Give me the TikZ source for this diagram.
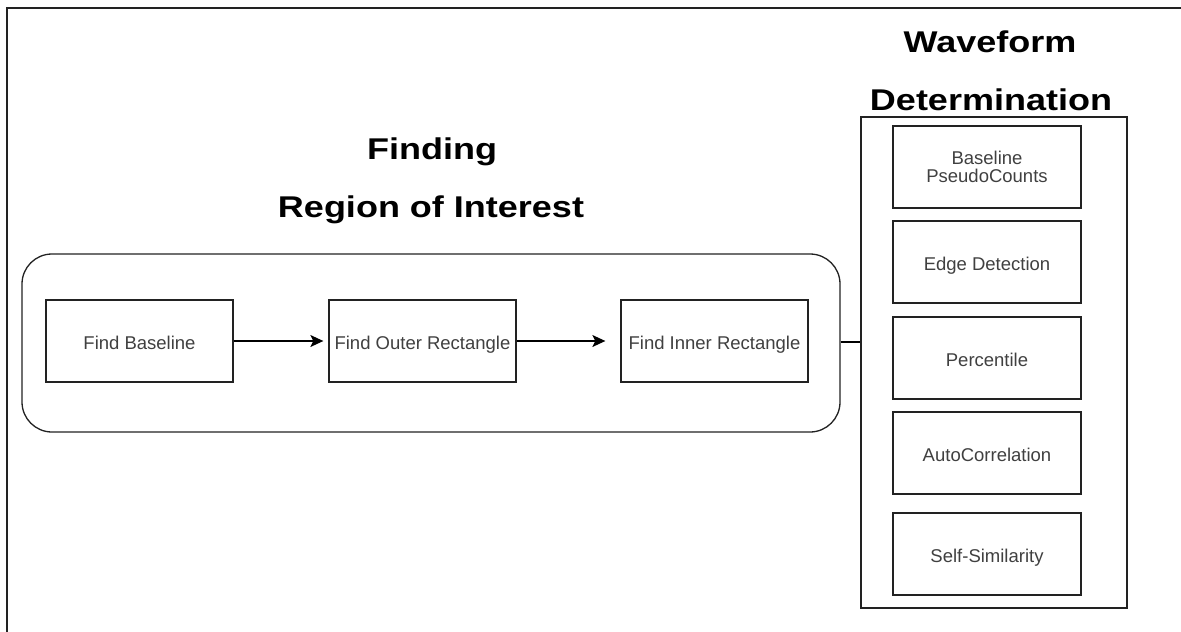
\documentclass[tikz,border=0pt]{standalone}
\usepackage{fontspec}
\usepackage{graphicx}
\setmainfont{Liberation Sans}
\usetikzlibrary{arrows.meta}
\definecolor{txtgrey}{HTML}{404040}
\definecolor{linegrey}{HTML}{222222}
\newcommand{\titletext}[1]{\scalebox{1.2}[1]{\fontsize{30}{36}\selectfont\bfseries #1}}
\begin{document}
\begin{tikzpicture}[x=1pt,y=-1pt,
  stepbox/.style={draw=linegrey,line width=1.3pt,minimum width=187pt,minimum height=82pt,inner sep=0pt,
    text=txtgrey,font=\fontsize{18.5}{21}\selectfont,align=center,text height=17pt,text depth=0pt},
  titlenode/.style={anchor=base,inner sep=0pt,text=black},
  conn/.style={draw=black,line width=1.3pt},
  arr/.style={conn,-{Stealth[length=13pt,width=12pt,inset=3pt]}}]
\useasboundingbox (0,0) rectangle (1181,632);
% outer frame
\draw[line width=2pt,draw=linegrey] (1181,8) -- (7,8) -- (7,632);
% containers
\node[draw=linegrey,line width=1.3pt,rounded corners=30pt,minimum width=818pt,minimum height=178pt,inner sep=0pt] (roi) at (431,343) {};
\node[draw=linegrey,line width=1.3pt,minimum width=266pt,minimum height=491pt,inner sep=0pt] (wf) at (994,362.5) {};
% titles
\node[titlenode] (t1) at (990,52) {\titletext{Waveform}};
\node[titlenode] (t2) at (991,110) {\titletext{Determination}};
\node[titlenode] (t3) at (432,159) {\titletext{Finding}};
\node[titlenode] (t4) at (431,217) {\titletext{Region of Interest}};
% left steps
\node[stepbox] (fb) at (139.5,341) {Find Baseline};
\node[stepbox] (fo) at (422.5,341) {Find Outer Rectangle};
\node[stepbox] (fi) at (714.5,341) {Find Inner Rectangle};
\draw[arr,shorten >=5pt] (fb.east) -- (fo.west);
\draw[arr,shorten >=15pt] (fo.east) -- (fi.west);
% right steps
\node[stepbox,minimum width=188pt,text height={},text depth={}] (b1) at (987,167) {Baseline\\[-3pt]PseudoCounts};
\node[stepbox,minimum width=188pt] (b2) at (987,262) {Edge Detection};
\node[stepbox,minimum width=188pt] (b3) at (987,358) {Percentile};
\node[stepbox,minimum width=188pt] (b4) at (987,453) {AutoCorrelation};
\node[stepbox,minimum width=188pt] (b5) at (987,554) {Self-Similarity};
% link
\draw[conn] (roi.east |- 0,342) -- (wf.west |- 0,342);
\end{tikzpicture}
\end{document}
